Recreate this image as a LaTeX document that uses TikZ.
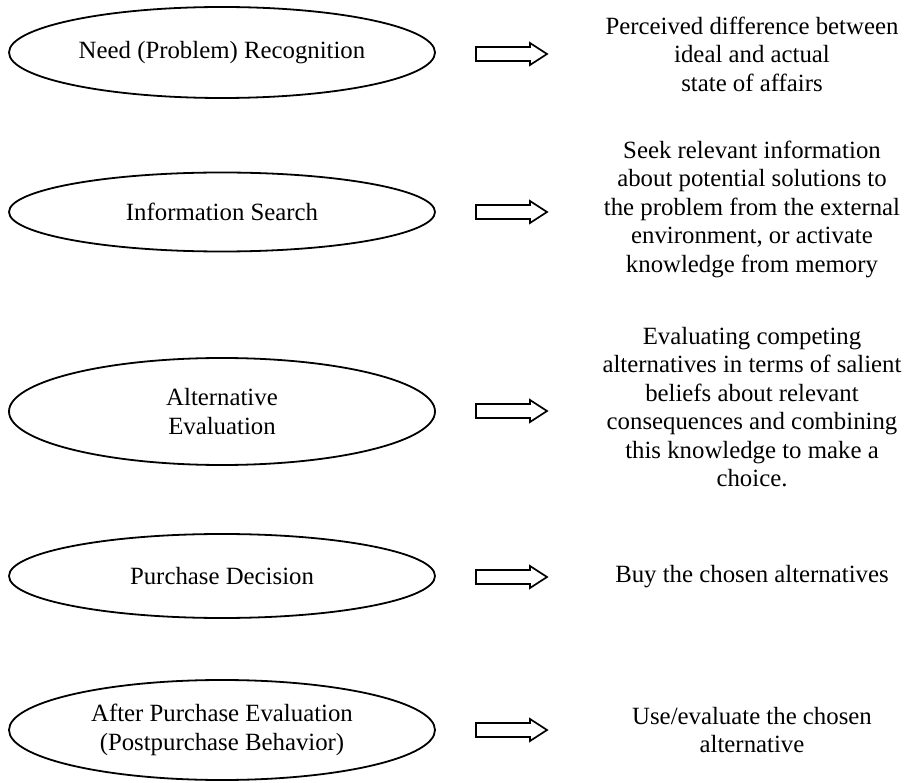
\documentclass[tikz,border=0pt]{standalone}
\usepackage{fontspec}
\setmainfont{Liberation Serif}
\usetikzlibrary{shapes.geometric}
\begin{document}
\begin{tikzpicture}[x=1pt,y=-1pt,
  stage/.style={draw, line width=1.8pt, ellipse, inner sep=0pt, minimum width=426pt, align=center, font=\fontsize{24.8}{28.5}\selectfont},
  desc/.style={align=center, inner sep=0pt, font=\fontsize{24.8}{28.5}\selectfont},
  blockarrow/.pic={\draw[line width=1.7pt, line join=miter] (0,-7) -- (54,-7) -- (54,-11) -- (71,0) -- (54,11) -- (54,7) -- (0,7) -- cycle;}
]
\useasboundingbox (0,0) rectangle (908,783);

\node[stage, minimum height=91pt] (e1) at (222,52.5) {Need (Problem) Recognition};
\node[stage, minimum height=79pt] (e2) at (222,212) {Information Search};
\node[stage, minimum height=107pt] (e3) at (222,411.5) {Alternative\\Evaluation};
\node[stage, minimum height=84pt] (e4) at (222,576) {Purchase Decision};
\node[stage, minimum height=100pt] (e5) at (222,730) {After Purchase Evaluation\\(Postpurchase Behavior)};

\pic at (476,54) {blockarrow};
\pic at (476,212) {blockarrow};
\pic at (476,411) {blockarrow};
\pic at (476,577) {blockarrow};
\pic at (476,730) {blockarrow};

\node[desc] (d1) at (752,54) {Perceived difference between\\ideal and actual\\state of affairs};
\node[desc] (d2) at (752,209) {Seek relevant information\\about potential solutions to\\the problem from the external\\environment, or activate\\knowledge from memory};
\node[desc] (d3) at (752,407) {Evaluating competing\\alternatives in terms of salient\\beliefs about relevant\\consequences and combining\\this knowledge to make a\\choice.};
\node[desc] (d4) at (752,577) {Buy the chosen alternatives};
\node[desc] (d5) at (752,730) {Use/evaluate the chosen\\alternative};
\end{tikzpicture}
\end{document}
